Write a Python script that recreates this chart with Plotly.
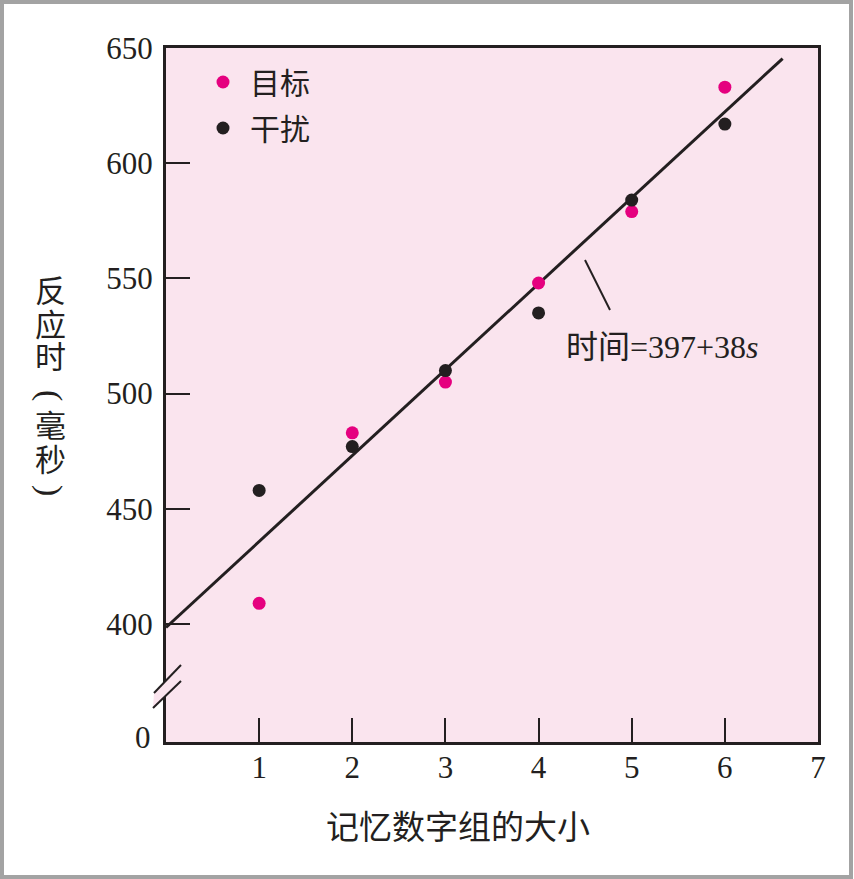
import plotly.graph_objects as go

# ---- data ----
set_size = [1, 2, 3, 4, 5, 6]
target_rt = [409, 483, 505, 548, 579, 633]
distractor_rt = [458, 477, 510, 535, 584, 617]
fit_intercept = 398.5
fit_slope = 37.3
fit_x = [0, 6.62]
fit_y = [fit_intercept + fit_slope * v for v in fit_x]

xtick_vals = [1, 2, 3, 4, 5, 6, 7]
xtick_text = ["1", "2", "3", "4", "5", "6", "7"]
ytick_vals = [400, 450, 500, 550, 600, 650]
ytick_text = ["400", "450", "500", "550", "600", "650"]
ybreak_label = "0"
series_names = ["目标", "干扰"]
x_title = "记忆数字组的大小"
y_title_chars = ["反", "应", "时", "(", "毫", "秒", ")"]
fit_label = "时间=397+38<i>s</i>"

# ---- style ----
PINK = "#e5007f"
INK = "#231f20"
BG = "#fae4ee"
SERIF = "Liberation Serif, Times New Roman, Noto Sans CJK SC, serif"
CJK = "Noto Sans CJK SC, sans-serif"

W, H = 854, 879
L, R, T, B = 166, 818, 48, 742
PW, PH = R - L, B - T


def px(xp):
    return (xp - L) / PW


def py(yp):
    return (B - yp) / PH


fig = go.Figure()
fig.add_trace(go.Scatter(x=fit_x, y=fit_y, mode="lines",
                         line=dict(color=INK, width=3), showlegend=False,
                         hoverinfo="skip"))
fig.add_trace(go.Scatter(x=set_size, y=target_rt, mode="markers", name=series_names[0],
                         marker=dict(color=PINK, size=13), legendgroup="a"))
fig.add_trace(go.Scatter(x=set_size, y=distractor_rt, mode="markers", name=series_names[1],
                         marker=dict(color=INK, size=13), legendgroup="b"))

shapes = []
# outer gray frame
shapes.append(dict(type="rect", xref="paper", yref="paper",
                   x0=px(2), x1=px(851), y0=py(877), y1=py(2),
                   line=dict(color="#a3a3a3", width=4), fillcolor="rgba(0,0,0,0)", layer="below"))
# axis break gap
shapes.append(dict(type="path", xref="paper", yref="paper",
                   path=f"M {px(154)} {py(693)} L {px(181)} {py(665)} L {px(181)} {py(681)} L {px(153)} {py(708)} Z",
                   fillcolor=BG, line=dict(width=0), layer="above"))
shapes.append(dict(type="line", xref="paper", yref="paper",
                   x0=px(154), y0=py(693), x1=px(181), y1=py(665),
                   line=dict(color=INK, width=2), layer="above"))
shapes.append(dict(type="line", xref="paper", yref="paper",
                   x0=px(153), y0=py(708), x1=px(181), y1=py(681),
                   line=dict(color=INK, width=2), layer="above"))
# leader line for fit label
shapes.append(dict(type="line", xref="paper", yref="paper",
                   x0=px(585), y0=py(260), x1=px(610), y1=py(310),
                   line=dict(color=INK, width=2), layer="above"))

annotations = []
annotations.append(dict(xref="paper", yref="paper", x=px(153), y=py(737),
                        text=ybreak_label, showarrow=False, xanchor="right", yanchor="middle",
                        font=dict(family=SERIF, size=31, color=INK)))
annotations.append(dict(xref="paper", yref="paper", x=px(564), y=py(347),
                        text=fit_label, showarrow=False, xanchor="left", yanchor="middle",
                        font=dict(family=SERIF, size=32, color=INK)))
annotations.append(dict(xref="paper", yref="paper", x=px(458), y=py(825),
                        text=x_title, showarrow=False, xanchor="center", yanchor="middle",
                        font=dict(family=CJK, size=33, color=INK)))
y_centers = [288, 322, 354, 395, 424, 458, 490]
for ch, yc in zip(y_title_chars, y_centers):
    is_paren = ch in "()"
    annotations.append(dict(xref="paper", yref="paper", x=px(50), y=py(yc),
                            text=ch, showarrow=False, xanchor="center", yanchor="middle",
                            textangle=90 if is_paren else 0,
                            font=dict(family=SERIF if is_paren else CJK,
                                      size=34 if is_paren else 31, color=INK)))

fig.update_layout(
    width=W, height=H,
    margin=dict(l=L, r=W - R, t=T, b=H - B, pad=0),
    paper_bgcolor="white", plot_bgcolor=BG,
    shapes=shapes, annotations=annotations,
    showlegend=True,
    legend=dict(x=px(196), y=py(56), xanchor="left", yanchor="top",
                bgcolor="rgba(0,0,0,0)", font=dict(family=CJK, size=30, color=INK),
                tracegroupgap=4, itemsizing="trace", itemwidth=44),
    xaxis=dict(range=[0, 7], tickvals=xtick_vals, ticktext=xtick_text,
               ticks="inside", ticklen=24, tickwidth=2, tickcolor=INK,
               showline=True, linewidth=3, linecolor=INK, mirror=True,
               showgrid=False, zeroline=False, ticklabelstandoff=-4,
               tickfont=dict(family=SERIF, size=31, color=INK)),
    yaxis=dict(range=[348.8, 650], tickvals=ytick_vals, ticktext=ytick_text,
               ticks="inside", ticklen=24, tickwidth=2, tickcolor=INK,
               showline=True, linewidth=3, linecolor=INK, mirror=True,
               showgrid=False, zeroline=False, ticklabelstandoff=4,
               tickfont=dict(family=SERIF, size=31, color=INK)),
)

fig.write_html("out.html", config={"displayModeBar": False},
               post_script="document.body.style.margin='0';document.body.style.overflow='hidden';")
